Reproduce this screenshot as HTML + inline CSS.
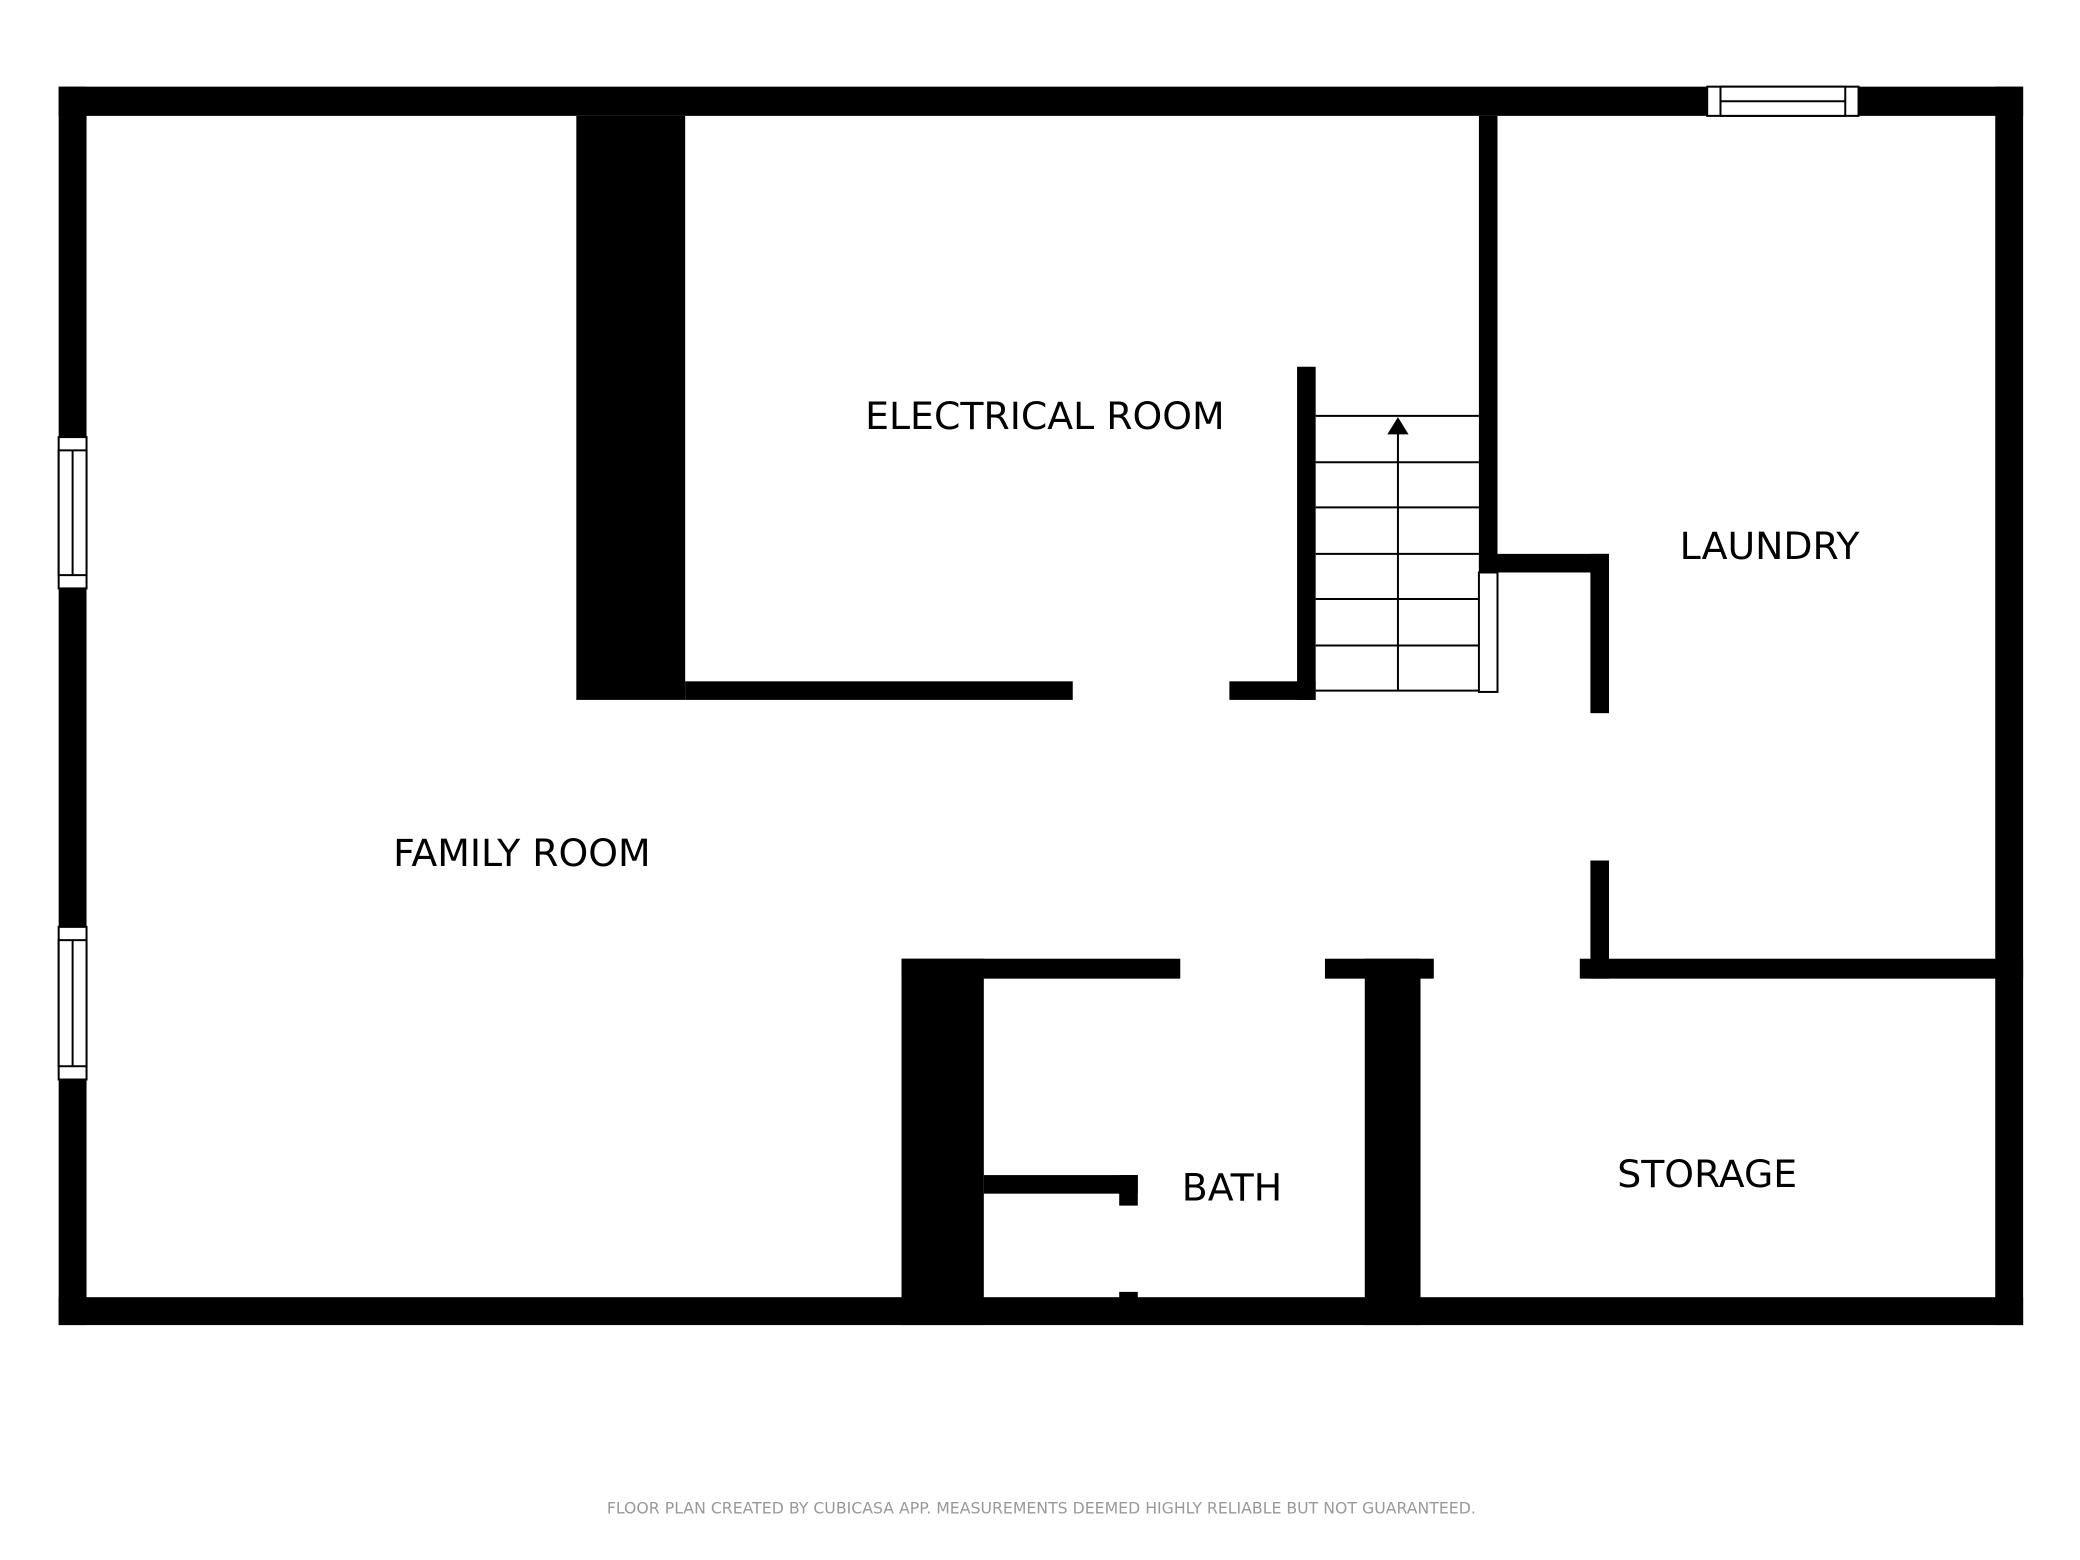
<!DOCTYPE html>
<html><head><meta charset="utf-8"><style>
html,body{margin:0;padding:0;background:#fff;}
svg{display:block;}
text{font-family:"DejaVu Sans","Liberation Sans",sans-serif;}
</style></head><body>
<svg width="2080" height="1560" viewBox="0 0 1560 1170" xmlns="http://www.w3.org/2000/svg">
<rect width="1560" height="1170" fill="#fff"/>
<g transform="translate(44,65) scale(0.9955) translate(-44,-65)">
<g fill="#000">
<rect x="44" y="65" width="1480" height="22"/>
<rect x="44" y="977" width="1480" height="21"/>
<rect x="44" y="65" width="21" height="933"/>
<rect x="1503" y="65" width="21" height="933"/>
<rect x="434" y="87" width="82" height="440"/>
<rect x="516" y="513" width="292" height="14"/>
<rect x="926" y="513" width="65" height="14"/>
<rect x="977" y="276" width="14" height="251"/>
<rect x="1114" y="87" width="14" height="344"/>
<rect x="1114" y="417" width="98" height="14"/>
<rect x="1198" y="417" width="14" height="120"/>
<rect x="1198" y="648" width="14" height="89"/>
<rect x="679" y="722" width="210" height="15"/>
<rect x="998" y="722" width="82" height="15"/>
<rect x="1190" y="722" width="334" height="15"/>
<rect x="679" y="722" width="62" height="276"/>
<rect x="1028" y="722" width="42" height="276"/>
<rect x="741" y="885" width="116" height="14"/>
<rect x="843" y="885" width="14" height="23"/>
<rect x="843" y="973" width="14" height="6"/>
</g>
<g fill="#fff" stroke="#000" stroke-width="1.5">
<rect x="1286" y="65" width="114" height="22"/>
<rect x="1296" y="65" width="94" height="22"/>
<line x1="1296" y1="76" x2="1390" y2="76"/>
<rect x="44" y="329" width="21" height="114"/>
<rect x="44" y="339" width="21" height="94"/>
<line x1="54.5" y1="339" x2="54.5" y2="433"/>
<rect x="44" y="698" width="21" height="115"/>
<rect x="44" y="708" width="21" height="95"/>
<line x1="54.5" y1="708" x2="54.5" y2="803"/>
</g>
<g stroke="#000" stroke-width="1.5" fill="none">
<line x1="991" y1="313" x2="1114" y2="313"/>
<line x1="991" y1="348" x2="1114" y2="348"/>
<line x1="991" y1="382" x2="1114" y2="382"/>
<line x1="991" y1="417" x2="1114" y2="417"/>
<line x1="991" y1="451" x2="1114" y2="451"/>
<line x1="991" y1="486" x2="1114" y2="486"/>
<line x1="991" y1="520" x2="1114" y2="520"/>
<line x1="1053" y1="326" x2="1053" y2="520"/>
<rect x="1114" y="431" width="14" height="90" fill="#fff"/>
</g>
<polygon points="1053,314 1045,327 1061,327" fill="#000"/>
<g font-size="28.5" fill="#000" text-anchor="middle">
<text x="787" y="323">ELECTRICAL ROOM</text>
<text x="393" y="652">FAMILY ROOM</text>
<text x="1333" y="421">LAUNDRY</text>
<text x="928" y="904">BATH</text>
<text x="1286" y="894">STORAGE</text>
</g>
</g>
<text x="781" y="1135" font-size="11.8" fill="#999" text-anchor="middle">FLOOR PLAN CREATED BY CUBICASA APP. MEASUREMENTS DEEMED HIGHLY RELIABLE BUT NOT GUARANTEED.</text>
</svg>
</body></html>
